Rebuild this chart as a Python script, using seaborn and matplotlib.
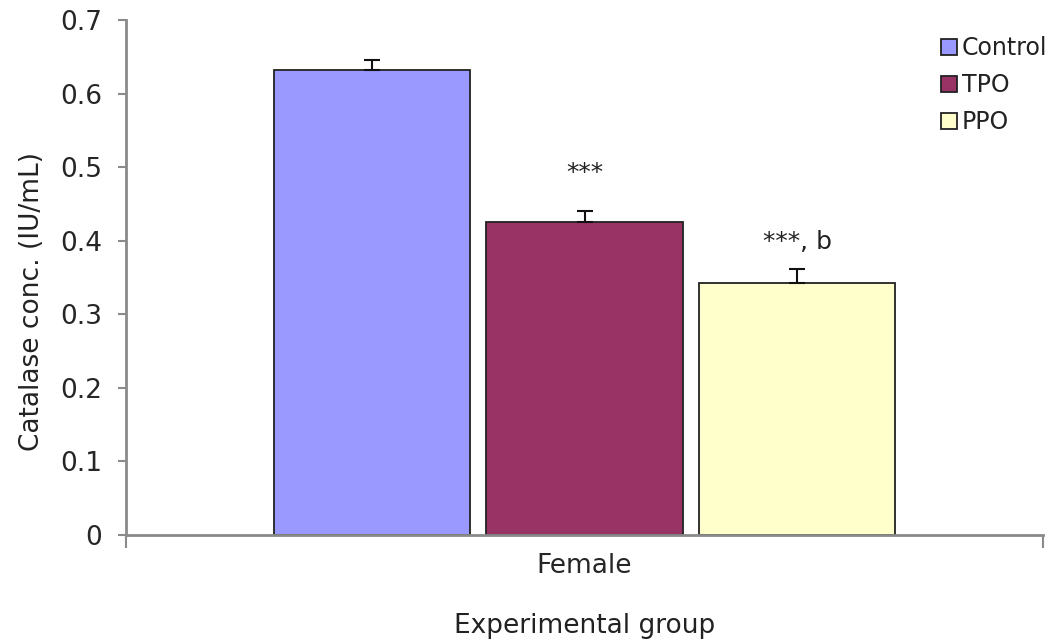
import matplotlib
matplotlib.use("Agg")
import matplotlib.pyplot as plt
from matplotlib.ticker import FuncFormatter
import seaborn as sns
import pandas as pd

groups = ["Control", "TPO", "PPO"]
sex = ["Female", "Female", "Female"]
catalase = [0.632, 0.426, 0.343]
sem = [0.013, 0.015, 0.019]
marks = ["", "***", "***, b"]
mark_y = [None, 0.482, 0.389]
colors = ["#9999FF", "#993366", "#FFFFCC"]

df = pd.DataFrame({"group": groups, "sex": sex, "value": catalase})

sns.set_theme(style="white")
plt.rcParams["font.family"] = ["DejaVu Sans"]
plt.rcParams["text.color"] = "#222222"
plt.rcParams["axes.labelcolor"] = "#222222"

fig = plt.figure(figsize=(10.59, 6.44), dpi=100)
ax = fig.add_axes([0.119, 0.1693, 0.866, 0.7997])

sns.barplot(data=df, x="sex", y="value", hue="group", hue_order=groups,
            palette=colors, width=0.695, gap=0.075, errorbar=None,
            edgecolor="#222222", linewidth=1.3, saturation=1, ax=ax)

# error bars, upper half only, on the bars seaborn drew
bars = [p for p in ax.patches if p.get_height() > 0][:3]
for bar, err, txt, ty in zip(bars, sem, marks, mark_y):
    xc = bar.get_x() + bar.get_width() / 2
    ax.errorbar(xc, bar.get_height(), yerr=[[0], [err]], fmt="none",
                ecolor="#111111", elinewidth=1.5, capsize=6, capthick=1.5)
    if txt:
        ax.text(xc + (6 if False else 0), ty, txt, ha="center", va="baseline", fontsize=18)

ax.set_xlim(-0.5, 0.5)
ax.set_ylim(0, 0.7)
ax.set_yticks([0, 0.1, 0.2, 0.3, 0.4, 0.5, 0.6, 0.7])
ax.yaxis.set_major_formatter(FuncFormatter(lambda v, p: "0" if v == 0 else f"{v:.1f}"))

ax.set_xticks([-0.5, 0.5])
ax.set_xticklabels(["", ""])
ax.set_xticks([0], minor=True)
ax.set_xticklabels(["Female"], minor=True)

for s in ["top", "right"]:
    ax.spines[s].set_visible(False)
for s in ["left", "bottom"]:
    ax.spines[s].set_color("#8a8a8a")
    ax.spines[s].set_linewidth(2)

ax.tick_params(axis="y", which="major", direction="out", length=6, width=1.5,
               color="#8a8a8a", labelsize=19, pad=11, left=True)
ax.tick_params(axis="x", which="major", direction="out", length=9, width=1.5,
               color="#8a8a8a", bottom=True)
ax.tick_params(axis="x", which="minor", length=0, labelsize=19, pad=13, bottom=True)

ax.set_ylabel("Catalase conc. (IU/mL)", fontsize=19)
ax.yaxis.set_label_coords(-0.088, 0.454)
ax.set_xlabel("Experimental group", fontsize=19)
ax.xaxis.set_label_coords(0.5, -0.152)

ax.legend(loc="upper right", bbox_to_anchor=(0.998, 0.958), bbox_transform=fig.transFigure,
          frameon=False, fontsize=17, handlelength=0.7, handleheight=0.65,
          handletextpad=0.2, labelspacing=0.55, borderaxespad=0)

fig.savefig("out.png", dpi=100)
